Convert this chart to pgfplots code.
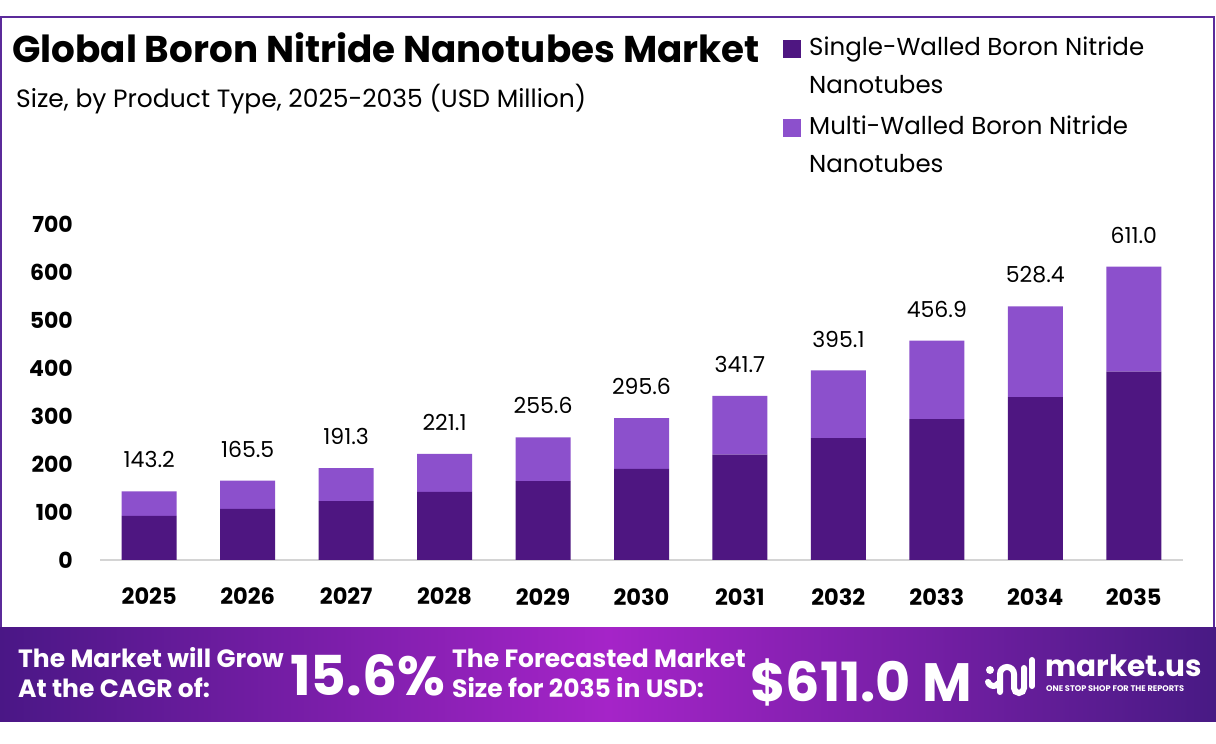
\documentclass[border=0pt]{standalone}
\usepackage{fontspec}
\setmainfont{Poppins}
\usepackage{pgfplots}
\pgfplotsset{compat=1.18}
\definecolor{dk}{HTML}{4E1681}
\definecolor{lt}{HTML}{8C50CC}
\definecolor{brd}{HTML}{5B2A9A}
\definecolor{bnL}{HTML}{4A1786}
\definecolor{bnM}{HTML}{A524C8}
\definecolor{bnR}{HTML}{481A84}
\definecolor{axl}{HTML}{D4D4D4}
\newcommand\fs[1]{\fontsize{#1}{#1}\selectfont}
\pgfplotsset{common/.style={at={(100pt,184pt)}, anchor=south west, scale only axis,
  width=1083pt, height=336pt,
  xmin=2024.5, xmax=2035.5, ymin=0, ymax=700, clip=false}}
\begin{document}
\begin{tikzpicture}[x=1pt,y=1pt]
\fill[white] (0,0) rectangle (1216,744);
\draw[brd, line width=2pt] (1,116) rectangle (1214,727);
% titles
\node[anchor=base west, inner sep=0] at (12,681) {\fs{37.3}\bfseries Global Boron Nitride Nanotubes Market};
\node[anchor=base west, inner sep=0] at (16,636) {\fs{25}Size, by Product Type, 2025-2035 (USD Million)};
% legend
\fill[dk] (783,686) rectangle (801,704);
\fill[lt] (783,607) rectangle (801,625);
\node[anchor=base west, inner sep=0] at (809,688) {\fs{24.5}Single-Walled Boron Nitride};
\node[anchor=base west, inner sep=0] at (809,650) {\fs{24.5}Nanotubes};
\node[anchor=base west, inner sep=0] at (809,609) {\fs{24.5}Multi-Walled Boron Nitride};
\node[anchor=base west, inner sep=0] at (809,571) {\fs{24.5}Nanotubes};
\begin{axis}[common,
  ybar stacked, bar width=55pt,
  separate axis lines, axis x line*=bottom, axis y line*=left,
  y axis line style={draw=none},
  x axis line style={draw=axl, line width=2pt},
  major tick length=0, tick style={draw=none},
  xtick={2025,...,2035}, ytick={0,100,...,700},
  /pgf/number format/.cd, 1000 sep={}, assume math mode=true, /pgfplots/.cd,
  yticklabel style={font=\fs{22}\bfseries, anchor=east, inner sep=0, xshift=-27pt},
  xticklabel style={font=\fs{22.5}\bfseries, anchor=north, inner sep=0, yshift=-28pt}]
\addplot[fill=dk, draw=none] coordinates {
 (2025,92.0) (2026,106.3) (2027,122.8) (2028,142.0) (2029,164.1) (2030,189.8)
 (2031,219.4) (2032,253.7) (2033,293.3) (2034,339.2) (2035,392.3)};
\addplot[fill=lt, draw=none] coordinates {
 (2025,51.2) (2026,59.2) (2027,68.5) (2028,79.1) (2029,91.5) (2030,105.8)
 (2031,122.3) (2032,141.4) (2033,163.6) (2034,189.2) (2035,218.7)};
\end{axis}
\begin{axis}[common, hide axis]
\addplot[draw=none, mark=none, nodes near coords, point meta=explicit symbolic,
  every node near coord/.style={font=\fs{22}, anchor=south, inner sep=0, yshift=23pt, text=black}]
 coordinates {
 (2025,143.2) [143.2] (2026,165.5) [165.5] (2027,191.3) [191.3] (2028,221.1) [221.1]
 (2029,255.6) [255.6] (2030,295.6) [295.6] (2031,341.7) [341.7] (2032,395.1) [395.1]
 (2033,456.9) [456.9] (2034,528.4) [528.4] (2035,611.0) [611.0]};
\end{axis}
% banner
\shade[left color=bnL, right color=bnR, middle color=bnM] (0,22) rectangle (1216,116);
\begin{scope}[every node/.style={inner sep=0, text=white}]
\node[anchor=base west] at (18,76) {\fs{25}\bfseries The Market will Grow};
\node[anchor=base west] at (18,46) {\fs{25}\bfseries At the CAGR of:};
\node[anchor=base west] at (290,48) {\fs{55}\bfseries 15.6\%};
\node[anchor=base west] at (452,76) {\fs{25}\bfseries The Forecasted Market};
\node[anchor=base west] at (452,46) {\fs{25}\bfseries Size for 2035 in USD:};
\node[anchor=base west] at (750,42) {\fs{54}\bfseries \$611.0 M};
\node[anchor=base west] at (1045,67) {\fs{29.5}\bfseries market.us};
\node[anchor=base west] at (1046,52) {\fs{8.2}\bfseries ONE STOP SHOP FOR THE REPORTS};
\end{scope}
% logo icon
\fill[white] (990,74) circle (4);
\draw[white, line width=6pt, line cap=round] (988,62) arc[start angle=200,end angle=330,radius=6];
\draw[white, line width=6pt, line cap=round] (1000,52) -- (1000,70) arc[start angle=180,end angle=0,radius=7] -- (1014,56) arc[start angle=180,end angle=360,radius=5] -- (1024,76);
\draw[white, line width=6pt, line cap=round] (1032,58) -- (1032,84);
\end{tikzpicture}
\end{document}
